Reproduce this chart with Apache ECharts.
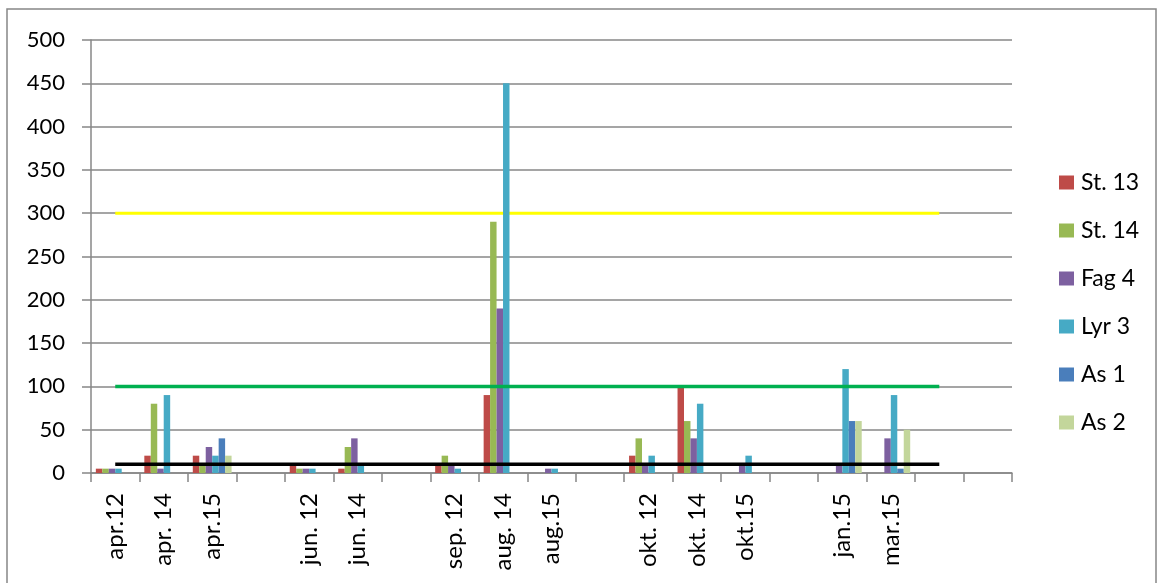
<!DOCTYPE html>
<html>
<head>
<meta charset="utf-8">
<script src="https://cdn.jsdelivr.net/npm/echarts@6/dist/echarts.min.js"></script>
<style>
html,body{margin:0;padding:0;background:#fff;}
#chart{width:1158px;height:583px;}
</style>
</head>
<body>
<div id="chart"></div>
<script>
const categories = ['apr.12','apr. 14','apr.15',' ','jun. 12','jun. 14','  ','sep. 12','aug. 14','aug.15','   ','okt. 12','okt. 14','okt.15','    ','jan.15','mar.15','     ','      '];
const st13 = [5,20,20,0,10,5,0,10,90,0,0,20,100,0,0,0,0,0,0];
const st14 = [5,80,10,0,5,30,0,20,290,0,0,40,60,0,0,0,0,0,0];
const fag4 = [5,5,30,0,5,40,0,10,190,5,0,10,40,10,0,10,40,0,0];
const lyr3 = [5,90,20,0,5,10,0,5,450,5,0,20,80,20,0,120,90,0,0];
const as1  = [0,0,40,0,0,0,0,0,0,0,0,0,0,0,0,60,5,0,0];
const as2  = [0,0,20,0,0,0,0,0,0,0,0,0,0,0,0,60,50,0,0];
const limitHigh = [300,300,300,300,300,300,300,300,300,300,300,300,300,300,300,300,300,300,null];
const limitMid  = [100,100,100,100,100,100,100,100,100,100,100,100,100,100,100,100,100,100,null];
const limitLow  = [10,10,10,10,10,10,10,10,10,10,10,10,10,10,10,10,10,10,null];
const yTicks = {min:0, max:500, interval:50};

const font = 'Lato, "Open Sans", sans-serif';
const gray = '#878787';
function bar(name, data, color){
  return {name, type:'bar', data, barGap:0, barCategoryGap:'20%', z:2,
    itemStyle:{color}, emphasis:{disabled:true}};
}
function line(name, data, color, w, z){
  return {name, type:'line', data, symbol:'none', z,
    lineStyle:{color, width:w}, emphasis:{disabled:true}, silent:true};
}
const chart = echarts.init(document.getElementById('chart'));
chart.setOption({
  animation:false,
  textStyle:{fontFamily:font},
  graphic:[{type:'rect', shape:{x:7,y:9,width:1149,height:600}, style:{fill:'none', stroke:gray, lineWidth:1.5}, silent:true}],
  grid:{left:91, right:146, top:40, bottom:110, containLabel:false},
  legend:{
    data:['St. 13','St. 14','Fag 4','Lyr 3','As 1','As 2'],
    orient:'vertical', left:1054, top:166, itemWidth:15, itemHeight:14, itemGap:25,
    icon:'rect', selectedMode:false,
    textStyle:{fontFamily:font, fontSize:23, color:'#000', lineHeight:23, padding:[0,0,0,2]}
  },
  xAxis:{
    type:'category', data:categories, boundaryGap:true,
    axisLine:{lineStyle:{color:gray, width:1.5}},
    axisTick:{show:true, length:9, interval:0, lineStyle:{color:gray, width:1.5}},
    axisLabel:{interval:0, rotate:90, margin:20, fontFamily:font, fontSize:24, color:'#000'},
    splitLine:{show:false}
  },
  yAxis:{
    type:'value', min:yTicks.min, max:yTicks.max, interval:yTicks.interval,
    axisLine:{show:true, lineStyle:{color:gray, width:1.5}},
    axisTick:{show:true, length:9, lineStyle:{color:gray, width:1.5}},
    axisLabel:{margin:26, fontFamily:font, fontSize:22, color:'#000'},
    splitLine:{lineStyle:{color:gray, width:1.5}}
  },
  series:[
    line('limit300', limitHigh, '#FFFF00', 3, 1),
    bar('St. 13', st13, '#BE4B48'),
    bar('St. 14', st14, '#98B954'),
    bar('Fag 4', fag4, '#7D60A0'),
    bar('Lyr 3', lyr3, '#46AAC5'),
    bar('As 1', as1, '#4A7EBB'),
    bar('As 2', as2, '#C3D69B'),
    line('limit100', limitMid, '#00B050', 3.5, 3),
    line('limit10', limitLow, '#000000', 3.5, 3)
  ]
});
</script>
</body>
</html>
